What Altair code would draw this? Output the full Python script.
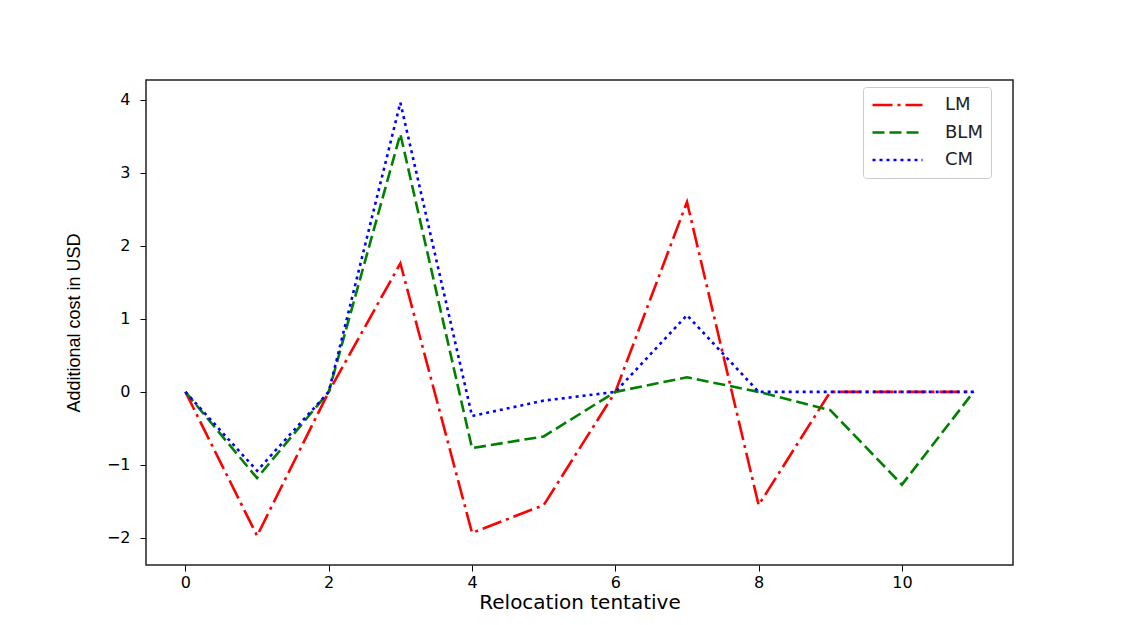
import altair as alt
import pandas as pd

# ---- data ----
x_vals = [0, 1, 2, 3, 4, 5, 6, 7, 8, 9, 10, 11]
lm = [0, -1.97, 0, 1.76, -1.93, -1.55, 0, 2.60, -1.55, 0, 0, 0]
blm = [0, -1.18, 0, 3.53, -0.77, -0.61, 0, 0.20, 0, -0.25, -1.27, 0]
cm = [0, -1.08, 0, 3.96, -0.33, -0.12, 0, 1.05, 0, 0, 0, 0]
series_names = ["LM", "BLM", "CM"]
series_colors = ["#ff0000", "#008000", "#0000ff"]
series_dashes = [[20, 5, 3, 5], [12, 5], [3, 4]]
x_ticks = [0, 2, 4, 6, 8, 10]
y_ticks = [-2, -1, 0, 1, 2, 3, 4]

rows = []
for name, vals in zip(series_names, [lm, blm, cm]):
    for xv, yv in zip(x_vals, vals):
        rows.append({"x": xv, "y": yv, "series": name})
df = pd.DataFrame(rows)

chart = alt.Chart(df).mark_line(strokeWidth=2.6, strokeCap="butt").encode(
    x=alt.X(
        "x:Q",
        title="Relocation tentative",
        scale=alt.Scale(domain=[-0.55, 11.55], nice=False, zero=False),
        axis=alt.Axis(
            values=x_ticks, grid=False, domain=False, tickSize=6, tickColor="#000",
            labelPadding=3, labelFontSize=16, labelFont="DejaVu Sans", labelColor="#000",
            titleFont="DejaVu Sans", titleFontSize=20, titleFontWeight="normal",
            titleColor="#000", titlePadding=2, labelFlush=False,
        ),
    ),
    y=alt.Y(
        "y:Q",
        title="Additional cost in USD",
        scale=alt.Scale(domain=[-2.37, 4.27], nice=False, zero=False),
        axis=alt.Axis(
            values=y_ticks, grid=False, domain=False, tickSize=6, tickColor="#000",
            labelPadding=10, labelFontSize=16, labelFont="DejaVu Sans", labelColor="#000",
            titleFont="Liberation Sans", titleFontSize=18, titleFontWeight="normal",
            titleColor="#000", titlePadding=23, labelFlush=False,
        ),
    ),
    color=alt.Color(
        "series:N",
        scale=alt.Scale(domain=series_names, range=series_colors),
        sort=series_names,
        legend=alt.Legend(
            orient="none", legendX=717, legendY=7, title=None,
            symbolType="stroke", symbolSize=2500, symbolStrokeWidth=2.6,
            labelFontSize=18, labelFont="DejaVu Sans", labelColor="#222",
            labelOffset=21, padding=8, rowPadding=7.5, clipHeight=20,
            strokeColor="#cccccc", fillColor="white", cornerRadius=3,
        ),
    ),
    strokeDash=alt.StrokeDash(
        "series:N",
        scale=alt.Scale(domain=series_names, range=series_dashes),
        sort=series_names,
        legend=None,
    ),
    order=alt.value(0),
).properties(
    width=867,
    height=485,
    autosize=alt.AutoSizeParams(type="none"),
    padding={"left": 138, "top": 72, "right": 90, "bottom": 52},
).configure_view(
    stroke="#222", strokeWidth=1.5
)

chart.save("out.html", embed_options={"renderer": "svg", "actions": False})
